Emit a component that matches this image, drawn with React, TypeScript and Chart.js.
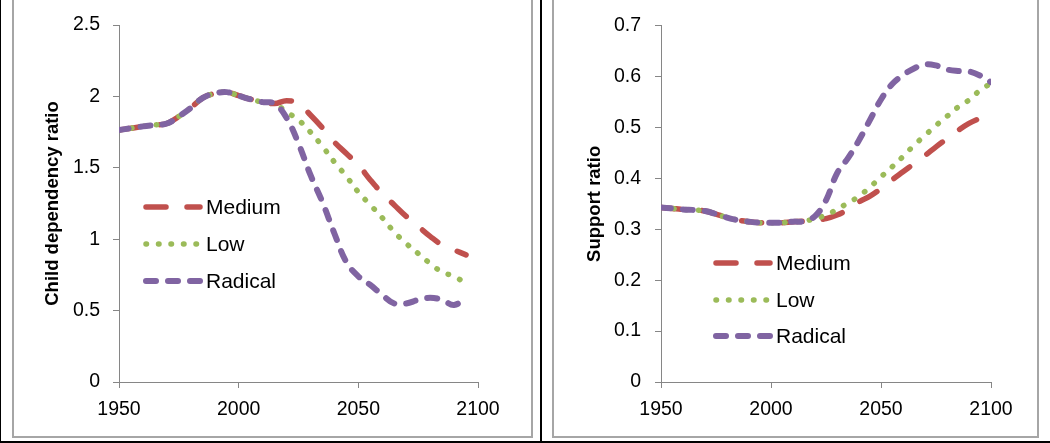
import React, { useEffect, useRef } from "react";
import { Chart, registerables } from "chart.js";

Chart.register(...registerables);

// ---------- data ----------
const leftYears = [1950,1955,1960,1965,1970,1975,1980,1985,1990,1995,2000,2005,2010,2015,2020,2025,2030,2035,2040,2045,2050,2055,2060,2065,2070,2075,2080,2085,2090,2095];
const rightYears = [1950,1955,1960,1965,1970,1975,1980,1985,1990,1995,2000,2005,2010,2015,2020,2025,2030,2035,2040,2045,2050,2055,2060,2065,2070,2075,2080,2085,2090,2095,2100];

const childMedium = [1.765,1.777,1.79,1.8,1.81,1.86,1.92,1.99,2.02,2.03,2.005,1.98,1.96,1.95,1.97,1.95,1.87,1.78,1.68,1.6,1.52,1.415,1.32,1.24,1.16,1.09,1.02,0.96,0.925,0.89];
const childLow = [1.765,1.777,1.79,1.8,1.81,1.86,1.92,1.99,2.02,2.03,2.005,1.98,1.96,1.95,1.89,1.835,1.75,1.65,1.54,1.44,1.33,1.24,1.15,1.05,0.97,0.9,0.83,0.77,0.74,0.69];
const childRadical = [1.765,1.777,1.79,1.8,1.81,1.86,1.92,1.99,2.02,2.03,2.005,1.98,1.96,1.95,1.85,1.67,1.45,1.26,1.04,0.84,0.74,0.68,0.61,0.55,0.55,0.575,0.59,0.575,0.54,0.59];

const supportMedium = [0.343,0.341,0.339,0.338,0.336,0.33,0.323,0.318,0.315,0.313,0.313,0.313,0.315,0.316,0.318,0.321,0.328,0.339,0.354,0.365,0.38,0.397,0.413,0.429,0.445,0.462,0.478,0.494,0.508,0.518,0.527];
const supportLow = [0.343,0.341,0.339,0.338,0.336,0.33,0.323,0.318,0.315,0.313,0.313,0.313,0.315,0.316,0.321,0.328,0.339,0.352,0.365,0.383,0.403,0.4225,0.443,0.465,0.4845,0.504,0.522,0.54,0.554,0.573,0.587];
const supportRadical = [0.343,0.341,0.339,0.338,0.336,0.33,0.323,0.318,0.315,0.313,0.313,0.313,0.315,0.316,0.326,0.357,0.41,0.44,0.475,0.515,0.555,0.585,0.603,0.616,0.624,0.622,0.614,0.611,0.61,0.602,0.589];

const seriesNames = ["Medium", "Low", "Radical"];
const xTicks = [1950, 2000, 2050, 2100];

// ---------- styles ----------
const COLORS = ["#C0504D", "#9BBB59", "#8064A2"];
const DASHES = [[20, 21], [0.5, 12], [10, 12]];
const WIDTHS = [5.5, 5.5, 6];
const FONT = "'Liberation Sans', Arial, sans-serif";
const AXIS = "#868686";

type Cfg = {
  years: number[];
  series: number[][];
  yMax: number;
  yStep: number;
  title: string;
  width: number;
  height: number;
  area: { left: number; right: number; top: number; bottom: number };
  titleX: number;
  legendX: number;
  legendY: number[];
  labelPad: number;
};

function fmt(v: number) {
  return String(Number(v.toFixed(2)));
}

function ChartPanel({ cfg }: { cfg: Cfg }) {
  const ref = useRef<HTMLCanvasElement | null>(null);
  useEffect(() => {
    if (!ref.current) return;
    const a = cfg.area;
    const overlay = {
      id: "overlay",
      afterDraw(chart: any) {
        const ctx = chart.ctx;
        const ca = chart.chartArea;
        ctx.save();
        // axis title
        ctx.translate(cfg.titleX, (ca.top + ca.bottom) / 2);
        ctx.rotate(-Math.PI / 2);
        ctx.font = `bold 18.5px ${FONT}`;
        ctx.fillStyle = "#000";
        ctx.textAlign = "center";
        ctx.textBaseline = "middle";
        ctx.fillText(cfg.title, 0, 0);
        ctx.restore();
        // legend
        ctx.save();
        seriesNames.forEach((name, i) => {
          const y = cfg.legendY[i];
          const x0 = ca.left + cfg.legendX;
          ctx.beginPath();
          ctx.setLineDash(DASHES[i]);
          ctx.lineCap = "round";
          ctx.lineWidth = WIDTHS[i];
          ctx.strokeStyle = COLORS[i];
          ctx.moveTo(x0 + 3, y);
          ctx.lineTo(x0 + 57, y);
          ctx.stroke();
          ctx.setLineDash([]);
          ctx.font = `21px ${FONT}`;
          ctx.fillStyle = "#000";
          ctx.textAlign = "left";
          ctx.textBaseline = "middle";
          ctx.fillText(name, x0 + 63, y + 1);
        });
        ctx.restore();
      },
    };
    const datasets = cfg.series.map((vals, i) => ({
      label: seriesNames[i],
      data: cfg.years.map((yr, j) => ({ x: yr, y: vals[j] })),
      borderColor: COLORS[i],
      backgroundColor: COLORS[i],
      borderWidth: WIDTHS[i],
      borderDash: DASHES[i],
      borderCapStyle: "round" as const,
      borderJoinStyle: "round" as const,
      pointRadius: 0,
      tension: 0.4,
      fill: false,
      order: 3 - i,
    }));
    const chart = new Chart(ref.current, {
      type: "line",
      data: { datasets },
      options: {
        animation: false,
        responsive: false,
        devicePixelRatio: 1,
        layout: { padding: { left: 0, right: cfg.width - a.right, top: a.top, bottom: 0 } },
        plugins: { legend: { display: false }, tooltip: { enabled: false } },
        scales: {
          x: {
            type: "linear",
            min: 1950,
            max: 2100,
            afterBuildTicks: (s: any) => {
              s.ticks = xTicks.map((v) => ({ value: v }));
            },
            afterFit: (s: any) => {
              s.height = cfg.height - a.bottom;
            },
            ticks: {
              callback: (v: any) => String(v),
              font: { family: FONT, size: 19.5 },
              color: "#000",
              padding: 10,
              maxRotation: 0,
            },
            grid: { drawOnChartArea: false, drawTicks: true, tickLength: 6, color: AXIS },
            border: { display: true, color: AXIS, width: 1 },
          },
          y: {
            type: "linear",
            min: 0,
            max: cfg.yMax,
            afterFit: (s: any) => {
              s.width = a.left;
            },
            ticks: {
              stepSize: cfg.yStep,
              callback: (v: any) => fmt(Number(v)),
              font: { family: FONT, size: 19.5 },
              color: "#000",
              padding: cfg.labelPad,
            },
            grid: { drawOnChartArea: false, drawTicks: true, tickLength: 6, color: AXIS },
            border: { display: true, color: AXIS, width: 1 },
          },
        },
      },
      plugins: [overlay],
    });
    return () => chart.destroy();
  }, [cfg]);
  return <canvas ref={ref} width={cfg.width} height={cfg.height} style={{ display: "block", width: cfg.width, height: cfg.height }} />;
}

const leftCfg: Cfg = {
  years: leftYears,
  series: [childMedium, childLow, childRadical],
  yMax: 2.5,
  yStep: 0.5,
  title: "Child dependency ratio",
  width: 519,
  height: 437,
  area: { left: 106, right: 465, top: 25, bottom: 382 },
  titleX: 40,
  legendX: 24,
  legendY: [207, 244, 281],
  labelPad: 13,
};

const rightCfg: Cfg = {
  years: rightYears,
  series: [supportMedium, supportLow, supportRadical],
  yMax: 0.7,
  yStep: 0.1,
  title: "Support ratio",
  width: 485,
  height: 437,
  area: { left: 108, right: 438, top: 25, bottom: 382 },
  titleX: 42,
  legendX: 52,
  legendY: [263, 300, 336],
  labelPad: 14,
};

export default function App() {
  const box = (left: number, width: number): React.CSSProperties => ({
    position: "absolute",
    left,
    top: -2,
    width,
    height: 440,
    border: "2px solid #a6a6a6",
    boxSizing: "border-box",
  });
  return (
    <div style={{ position: "fixed", left: 0, top: 0, width: 1050, height: 443, background: "#fff", overflow: "hidden" }}>
      <div style={box(12, 521)} />
      <div style={box(552, 487)} />
      <div style={{ position: "absolute", left: 13, top: 0 }}>
        <ChartPanel cfg={leftCfg} />
      </div>
      <div style={{ position: "absolute", left: 553, top: 0 }}>
        <ChartPanel cfg={rightCfg} />
      </div>
      <div style={{ position: "absolute", left: 0, top: 0, width: 1, height: 443, background: "#000" }} />
      <div style={{ position: "absolute", left: 540, top: 0, width: 2, height: 443, background: "#000" }} />
      <div style={{ position: "absolute", left: 0, top: 441, width: 1050, height: 2, background: "#000" }} />
    </div>
  );
}
